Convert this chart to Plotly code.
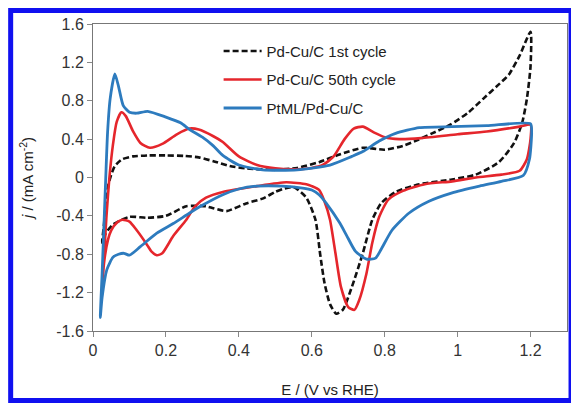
import plotly.graph_objects as go

# ---- data: Pd-Cu/C 1st cycle (black dashed) ----
e_first = [0.025, 0.03, 0.035, 0.042, 0.05, 0.06, 0.08, 0.11, 0.15, 0.2, 0.25, 0.29, 0.33, 0.375,
           0.42, 0.5, 0.56, 0.62, 0.676, 0.74, 0.8, 0.85, 0.89, 0.93, 0.98, 1.03, 1.07, 1.11, 1.14,
           1.17, 1.2,
           1.2, 1.19, 1.177, 1.155, 1.113, 1.05, 0.985, 0.895, 0.83, 0.79, 0.766, 0.74, 0.71, 0.685,
           0.667, 0.65, 0.635, 0.623, 0.61, 0.585, 0.55, 0.52, 0.5, 0.465, 0.42, 0.366, 0.33, 0.31,
           0.256, 0.2, 0.148, 0.1, 0.055, 0.035, 0.025]
j_first = [-0.68, -0.5, -0.25, -0.08, 0.03, 0.12, 0.19, 0.22, 0.23, 0.23, 0.225, 0.21, 0.17, 0.12,
           0.095, 0.08, 0.1, 0.16, 0.24, 0.31, 0.29, 0.33, 0.39, 0.46, 0.55, 0.68, 0.82, 0.96, 1.07,
           1.27, 1.52,
           1.16, 0.82, 0.57, 0.36, 0.16, 0.03, -0.02, -0.07, -0.15, -0.27, -0.44, -0.79, -1.14, -1.38,
           -1.42, -1.32, -1.1, -0.8, -0.44, -0.21, -0.1, -0.12, -0.15, -0.22, -0.27, -0.35, -0.32, -0.3,
           -0.3, -0.4, -0.42, -0.41, -0.49, -0.58, -0.68]

# ---- data: Pd-Cu/C 50th cycle (red) ----
e_fifty = [0.025, 0.03, 0.037, 0.045, 0.055, 0.065, 0.078, 0.09, 0.11, 0.13, 0.156, 0.19, 0.23, 0.265,
           0.29, 0.33, 0.356, 0.4, 0.45, 0.5, 0.55, 0.6, 0.63, 0.66, 0.69, 0.715, 0.74, 0.77, 0.8,
           0.84, 0.9, 1.0, 1.08, 1.17, 1.2,
           1.2, 1.19, 1.17, 1.12, 1.05, 0.985, 0.91, 0.85, 0.81, 0.785, 0.766, 0.75, 0.73, 0.717,
           0.7, 0.68, 0.665, 0.65, 0.635, 0.62, 0.6, 0.585, 0.53, 0.45, 0.356, 0.31, 0.28, 0.256,
           0.22, 0.19, 0.175, 0.16, 0.148, 0.12, 0.1, 0.08, 0.066, 0.05, 0.041, 0.03, 0.025]
j_fifty = [-1.2, -0.85, -0.4, 0.0, 0.35, 0.58, 0.68, 0.64, 0.48, 0.36, 0.31, 0.35, 0.45, 0.51,
           0.5, 0.43, 0.37, 0.22, 0.13, 0.095, 0.085, 0.1, 0.13, 0.22, 0.4, 0.51, 0.53, 0.47, 0.42,
           0.4, 0.41, 0.45, 0.48, 0.53, 0.55,
           0.4, 0.19, 0.07, 0.03, 0.0, -0.04, -0.07, -0.14, -0.23, -0.41, -0.68, -1.0, -1.28, -1.38,
           -1.35, -1.14, -0.79, -0.44, -0.25, -0.13, -0.09, -0.07, -0.05, -0.09, -0.15, -0.21, -0.3, -0.44,
           -0.61, -0.79, -0.81, -0.77, -0.7, -0.55, -0.46, -0.44, -0.47, -0.55, -0.65, -0.9, -1.2]

# ---- data: PtML/Pd-Cu/C (blue) ----
e_ptml = [0.02, 0.025, 0.03, 0.035, 0.04, 0.047, 0.06, 0.07, 0.083, 0.1, 0.12, 0.15, 0.2, 0.24,
          0.265, 0.3, 0.33, 0.356, 0.4, 0.465, 0.56, 0.65, 0.71, 0.74, 0.785, 0.83, 0.895, 0.985,
          1.08, 1.2,
          1.203, 1.197, 1.18, 1.12, 1.06, 0.985, 0.92, 0.867, 0.82, 0.79, 0.775, 0.75, 0.72, 0.695,
          0.676, 0.64, 0.62, 0.6, 0.575, 0.52, 0.45, 0.4, 0.356, 0.3, 0.265, 0.22, 0.175, 0.13,
          0.1, 0.085, 0.07, 0.055, 0.038, 0.025, 0.02]
j_ptml = [-1.46, -1.0, -0.5, 0.0, 0.47, 0.82, 1.08, 0.95, 0.75, 0.68, 0.67, 0.69, 0.63, 0.57,
          0.5, 0.42, 0.33, 0.23, 0.13, 0.08, 0.08, 0.13, 0.22, 0.27, 0.38, 0.46, 0.52, 0.53,
          0.54, 0.56,
          0.47, 0.19, 0.02, -0.04, -0.09, -0.16, -0.25, -0.37, -0.55, -0.75, -0.84, -0.85, -0.77, -0.6,
          -0.47, -0.27, -0.18, -0.13, -0.11, -0.09, -0.09, -0.12, -0.18, -0.29, -0.37, -0.48, -0.58, -0.72,
          -0.81, -0.79, -0.8, -0.83, -0.96, -1.25, -1.46]

series_names = ["Pd-Cu/C 1st cycle", "Pd-Cu/C 50th cycle", "PtML/Pd-Cu/C"]

x_tickvals = [0, 0.2, 0.4, 0.6, 0.8, 1.0, 1.2]
x_ticktext = ["0", "0.2", "0.4", "0.6", "0.8", "1", "1.2"]
y_tickvals = [-1.6, -1.2, -0.8, -0.4, 0, 0.4, 0.8, 1.2, 1.6]
y_ticktext = ["-1.6", "-1.2", "-0.8", "-0.4", "0", "0.4", "0.8", "1.2", "1.6"]

FONT = "Arial, Liberation Sans, sans-serif"

fig = go.Figure()
fig.add_trace(go.Scatter(x=e_first, y=j_first, mode="lines", name=series_names[0],
                         legendgroup="a",
                         line=dict(color="#111111", width=2.6, dash="6px,3px", shape="spline",
                                   smoothing=0.6)))
fig.add_trace(go.Scatter(x=e_fifty, y=j_fifty, mode="lines", name=series_names[1],
                         legendgroup="b",
                         line=dict(color="#E5262C", width=2.6, shape="spline", smoothing=0.6)))
fig.add_trace(go.Scatter(x=e_ptml, y=j_ptml, mode="lines", name=series_names[2],
                         legendgroup="c",
                         line=dict(color="#2D7BBE", width=2.8, shape="spline", smoothing=0.6)))

fig.update_layout(
    width=571, height=403,
    margin=dict(l=93, r=4, t=24, b=72),
    paper_bgcolor="white", plot_bgcolor="white",
    font=dict(family=FONT, size=15, color="#333333"),
    showlegend=True,
    legend=dict(x=0.265, y=0.965, xanchor="left", yanchor="top",
                bgcolor="rgba(0,0,0,0)", font=dict(family=FONT, size=15, color="#222222"),
                tracegroupgap=6, itemwidth=38),
    xaxis=dict(range=[0, 1.3], tickvals=x_tickvals, ticktext=x_ticktext,
               showgrid=False, zeroline=False, showline=True, linecolor="#777777", linewidth=1,
               mirror=True, ticks="outside", ticklen=5, tickcolor="#888888",
               tickfont=dict(size=16, color="#333333"),
               title=dict(text="E / (V vs RHE)", font=dict(size=15, color="#222222"), standoff=26)),
    yaxis=dict(range=[-1.6, 1.6], tickvals=y_tickvals, ticktext=y_ticktext,
               showgrid=False, zeroline=False, showline=True, linecolor="#777777", linewidth=1,
               mirror=True, ticks="outside", ticklen=5, tickcolor="#888888",
               tickfont=dict(size=16, color="#333333"),
               title=dict(text="<i>j</i> / (mA cm<sup>-2</sup>)",
                          font=dict(size=15, color="#222222"), standoff=18)),
)

# blue frame around the figure
fig.add_shape(type="rect", xref="paper", yref="paper",
              x0=-0.1737, x1=1.0085, y0=-0.2264, y1=1.044,
              line=dict(color="#1010F0", width=5), fillcolor="rgba(0,0,0,0)", layer="above")

fig.write_html("out.html", config={"displayModeBar": False},
               post_script="document.body.style.margin='0';document.body.style.overflow='hidden';")
